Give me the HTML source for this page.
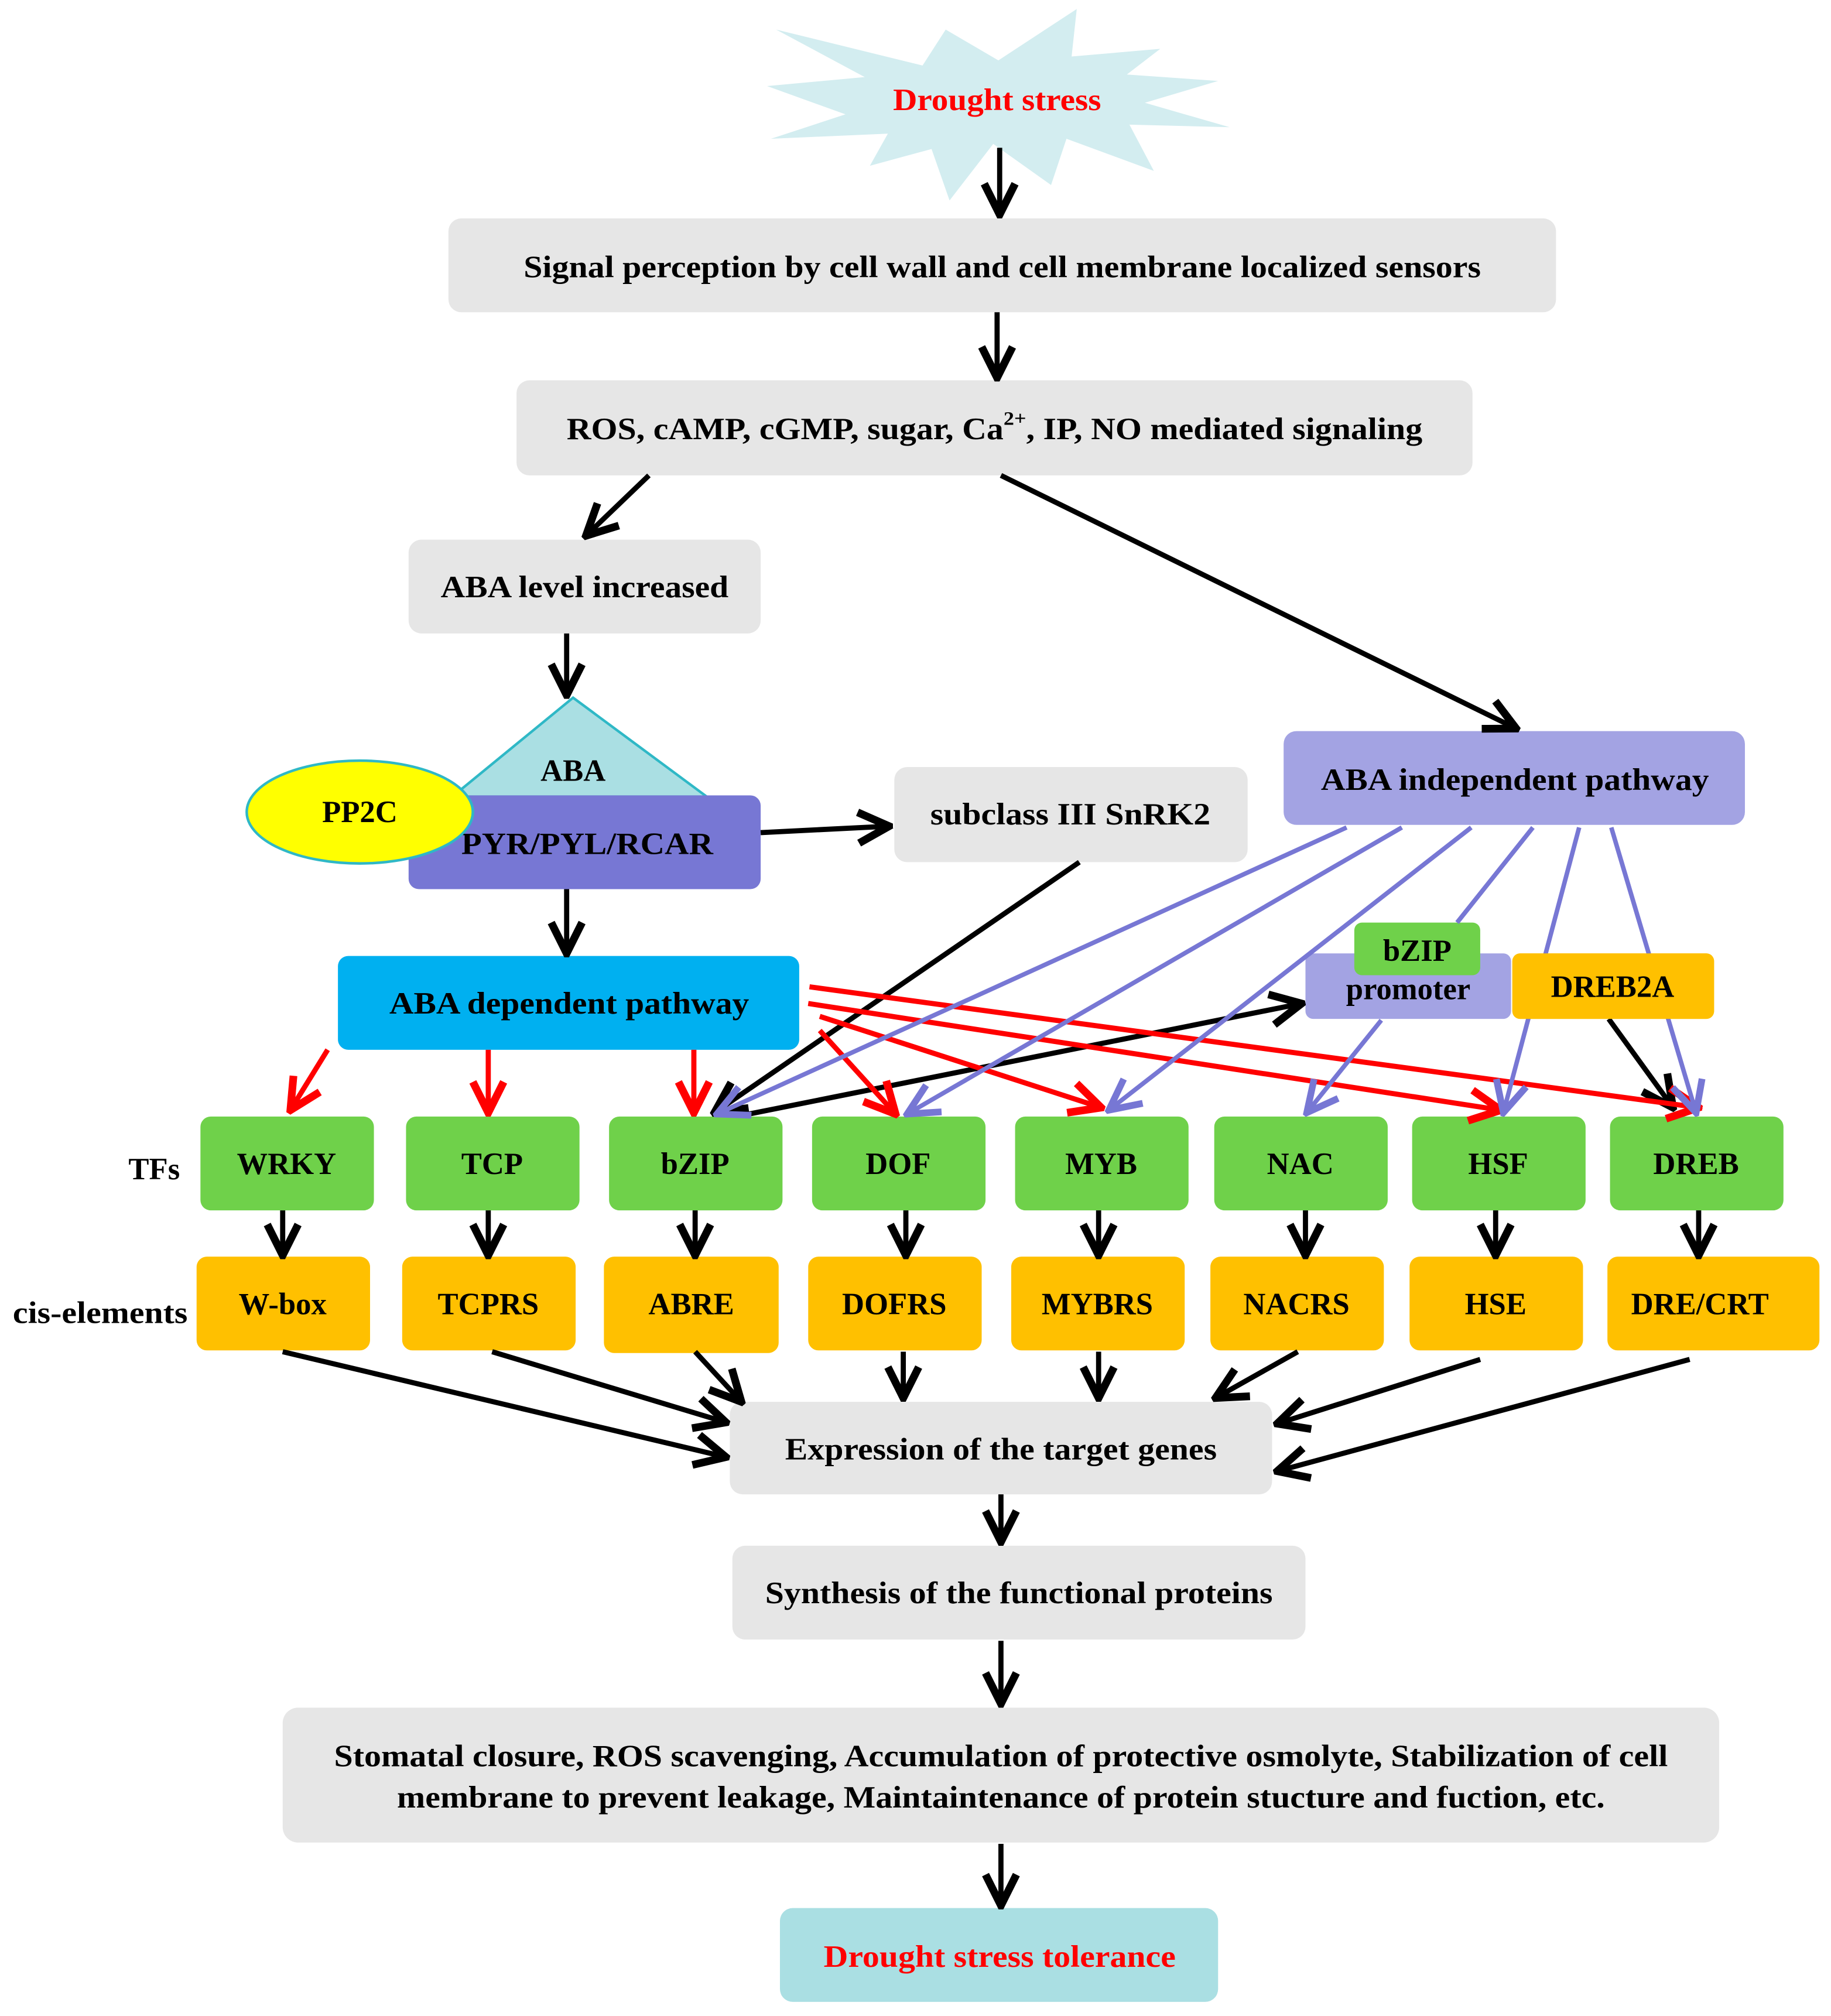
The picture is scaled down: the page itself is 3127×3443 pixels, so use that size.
<!DOCTYPE html>
<html><head><meta charset="utf-8"><style>
html,body{margin:0;padding:0;background:#fff;}
svg{display:block;}
text{font-family:'Liberation Serif','DejaVu Serif',serif;font-weight:bold;font-size:24px;text-anchor:middle;dominant-baseline:central;fill:#000;}
</style></head><body>
<svg width="3127" height="3443" viewBox="0 0 1425 1569" preserveAspectRatio="none" xmlns="http://www.w3.org/2000/svg" font-family="Liberation Serif, serif">
<defs>
<marker id="ab" markerUnits="userSpaceOnUse" markerWidth="30" markerHeight="30" refX="18" refY="10" orient="auto" viewBox="0 0 20 20"><polyline points="2,2 18,10 2,18" fill="none" stroke="#000" stroke-width="4"/></marker>
<marker id="ar" markerUnits="userSpaceOnUse" markerWidth="30" markerHeight="30" refX="18" refY="10" orient="auto" viewBox="0 0 20 20"><polyline points="2,2 18,10 2,18" fill="none" stroke="#ff0000" stroke-width="4"/></marker>
<marker id="ap" markerUnits="userSpaceOnUse" markerWidth="30" markerHeight="30" refX="18" refY="10" orient="auto" viewBox="0 0 20 20"><polyline points="2,2 18,10 2,18" fill="none" stroke="#7777d4" stroke-width="3.5"/></marker>
</defs>

<polygon points="838,7 834,44 903,38 877,58 948,63 891,80 957,99 879,97 898,133 830,108 818,144 773,112 739,156 725,116 677,129 691,104 600,108 658,89 597,67 673,60 604,23 718,51 736,23 777,47" fill="#d3edf0"/>
<text x="776" y="78" style="fill:#ff0000" textLength="162" lengthAdjust="spacingAndGlyphs">Drought stress</text>

<rect x="349" y="170" width="862" height="73" rx="10" fill="#e6e6e6"/>
<text x="780" y="208" textLength="745" lengthAdjust="spacingAndGlyphs">Signal perception by cell wall and cell membrane localized sensors</text>
<rect x="402" y="296" width="744" height="74" rx="10" fill="#e6e6e6"/>
<text x="774" y="334" textLength="666" lengthAdjust="spacingAndGlyphs">ROS, cAMP, cGMP, sugar, Ca<tspan dy="-8" font-size="15">2+</tspan><tspan dy="8">, IP, NO mediated signaling</tspan></text>
<rect x="318" y="420" width="274" height="73" rx="10" fill="#e6e6e6"/>
<text x="455" y="457" textLength="224" lengthAdjust="spacingAndGlyphs">ABA level increased</text>

<polygon points="446,543 352,620 550,620" fill="#aadfe3" stroke="#2fb8c6" stroke-width="2"/>
<text x="446" y="600">ABA</text>
<rect x="318" y="619" width="274" height="73" rx="8" fill="#7777d4"/>
<text x="457" y="657" textLength="196" lengthAdjust="spacingAndGlyphs">PYR/PYL/RCAR</text>
<ellipse cx="280" cy="632" rx="88" ry="40" fill="#ffff00" stroke="#2fb8c6" stroke-width="2"/>
<text x="280" y="632">PP2C</text>

<rect x="696" y="597" width="275" height="74" rx="10" fill="#e6e6e6"/>
<text x="833" y="634" textLength="218" lengthAdjust="spacingAndGlyphs">subclass III SnRK2</text>
<rect x="999" y="569" width="359" height="73" rx="10" fill="#a3a3e3"/>
<text x="1179" y="607" textLength="302" lengthAdjust="spacingAndGlyphs">ABA independent pathway</text>
<rect x="263" y="744" width="359" height="73" rx="8" fill="#00b0f0"/>
<text x="443" y="781" textLength="280" lengthAdjust="spacingAndGlyphs">ABA dependent pathway</text>

<rect x="1016" y="742" width="160" height="51" rx="6" fill="#a3a3e3"/>
<text x="1096" y="770">promoter</text>
<rect x="1054" y="718" width="98" height="41" rx="6" fill="#6fd14a"/>
<text x="1103" y="740">bZIP</text>
<rect x="1177" y="742" width="157" height="51" rx="6" fill="#ffc000"/>
<text x="1255" y="768">DREB2A</text>

<g fill="#6fd14a">
<rect x="156" y="869" width="135" height="73" rx="8"/><rect x="316" y="869" width="135" height="73" rx="8"/>
<rect x="474" y="869" width="135" height="73" rx="8"/><rect x="632" y="869" width="135" height="73" rx="8"/>
<rect x="790" y="869" width="135" height="73" rx="8"/><rect x="945" y="869" width="135" height="73" rx="8"/>
<rect x="1099" y="869" width="135" height="73" rx="8"/><rect x="1253" y="869" width="135" height="73" rx="8"/>
</g>
<text x="223" y="906">WRKY</text><text x="383" y="906">TCP</text><text x="541" y="906">bZIP</text><text x="699" y="906">DOF</text>
<text x="857" y="906">MYB</text><text x="1012" y="906">NAC</text><text x="1166" y="906">HSF</text><text x="1320" y="906">DREB</text>
<text x="120" y="910">TFs</text>

<g fill="#ffc000">
<rect x="153" y="978" width="135" height="73" rx="8"/><rect x="313" y="978" width="135" height="73" rx="8"/>
<rect x="470" y="978" width="136" height="75" rx="8"/><rect x="629" y="978" width="135" height="73" rx="8"/>
<rect x="787" y="978" width="135" height="73" rx="8"/><rect x="942" y="978" width="135" height="73" rx="8"/>
<rect x="1097" y="978" width="135" height="73" rx="8"/><rect x="1251" y="978" width="165" height="73" rx="8"/>
</g>
<text x="220" y="1015">W-box</text><text x="380" y="1015">TCPRS</text><text x="538" y="1015">ABRE</text><text x="696" y="1015">DOFRS</text>
<text x="854" y="1015">MYBRS</text><text x="1009" y="1015">NACRS</text><text x="1164" y="1015">HSE</text><text x="1323" y="1015">DRE/CRT</text>
<text x="78" y="1022" textLength="136" lengthAdjust="spacingAndGlyphs">cis-elements</text>

<rect x="568" y="1091" width="422" height="72" rx="10" fill="#e6e6e6"/>
<text x="779" y="1128" textLength="336" lengthAdjust="spacingAndGlyphs">Expression of the target genes</text>
<rect x="570" y="1203" width="446" height="73" rx="10" fill="#e6e6e6"/>
<text x="793" y="1240" textLength="395" lengthAdjust="spacingAndGlyphs">Synthesis of the functional proteins</text>
<rect x="220" y="1329" width="1118" height="105" rx="12" fill="#e6e6e6"/>
<text x="779" y="1367" textLength="1038" lengthAdjust="spacingAndGlyphs">Stomatal closure, ROS scavenging, Accumulation of protective osmolyte, Stabilization of cell</text>
<text x="779" y="1399" textLength="940" lengthAdjust="spacingAndGlyphs">membrane to prevent leakage, Maintaintenance of protein stucture and fuction, etc.</text>
<rect x="607" y="1485" width="341" height="73" rx="10" fill="#aadfe3"/>
<text x="778" y="1523" style="fill:#ff0000" textLength="274" lengthAdjust="spacingAndGlyphs">Drought stress tolerance</text>

<g stroke="#000" stroke-width="4" fill="none" marker-end="url(#ab)">
<line x1="778" y1="115" x2="778" y2="167"/>
<line x1="776" y1="243" x2="776" y2="294"/>
<line x1="505" y1="370" x2="456" y2="417"/>
<line x1="779" y1="370" x2="1180" y2="567"/>
<line x1="441" y1="493" x2="441" y2="541"/>
<line x1="592" y1="648" x2="692" y2="643"/>
<line x1="441" y1="692" x2="441" y2="742"/>
<line x1="840" y1="671" x2="556" y2="866"/>
<line x1="578" y1="868" x2="1013" y2="781"/>
<line x1="1252" y1="793" x2="1302" y2="862"/>
<line x1="220" y1="942" x2="220" y2="977"/><line x1="380" y1="942" x2="380" y2="977"/>
<line x1="541" y1="942" x2="541" y2="977"/><line x1="705" y1="942" x2="705" y2="977"/>
<line x1="855" y1="942" x2="855" y2="977"/><line x1="1016" y1="942" x2="1016" y2="977"/>
<line x1="1164" y1="942" x2="1164" y2="977"/><line x1="1322" y1="942" x2="1322" y2="977"/>
<line x1="220" y1="1052" x2="565" y2="1134"/>
<line x1="383" y1="1052" x2="565" y2="1107"/>
<line x1="541" y1="1052" x2="577" y2="1091"/>
<line x1="703" y1="1052" x2="703" y2="1088"/>
<line x1="855" y1="1052" x2="855" y2="1088"/>
<line x1="1010" y1="1052" x2="946" y2="1088"/>
<line x1="1152" y1="1058" x2="994" y2="1108"/>
<line x1="1315" y1="1058" x2="994" y2="1145"/>
<line x1="779" y1="1163" x2="779" y2="1200"/>
<line x1="779" y1="1277" x2="779" y2="1326"/>
<line x1="779" y1="1435" x2="779" y2="1483"/>
</g>

<g stroke="#ff0000" stroke-width="4" fill="none" marker-end="url(#ar)">
<line x1="255" y1="817" x2="226" y2="864"/>
<line x1="380" y1="817" x2="380" y2="866"/>
<line x1="540" y1="817" x2="540" y2="866"/>
<line x1="638" y1="802" x2="697" y2="867"/>
<line x1="638" y1="791" x2="857" y2="862"/>
<line x1="629" y1="781" x2="1168" y2="864"/>
<line x1="630" y1="768" x2="1322" y2="862"/>
</g>

<g stroke="#7777d4" stroke-width="3.5" fill="none" marker-end="url(#ap)">
<line x1="1048" y1="644" x2="558" y2="867"/>
<line x1="1091" y1="644" x2="706" y2="867"/>
<line x1="1145" y1="644" x2="863" y2="864"/>
<line x1="1075" y1="794" x2="1017" y2="866"/>
<line x1="1229" y1="644" x2="1170" y2="866"/>
<line x1="1254" y1="644" x2="1320" y2="866"/>
</g>
<line x1="1193" y1="644" x2="1134" y2="718" stroke="#7777d4" stroke-width="3.5"/>
<rect x="1177" y="742" width="157" height="51" rx="6" fill="#ffc000"/>
<text x="1255" y="768">DREB2A</text>
</svg>
</body></html>
